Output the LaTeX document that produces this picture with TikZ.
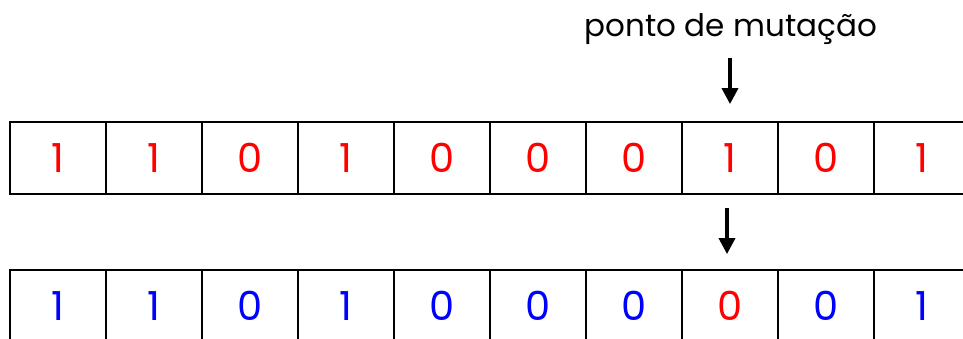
\documentclass[tikz,border=0pt]{standalone}
\usepackage{fontspec}
\setmainfont{Poppins}
\usetikzlibrary{arrows.meta,positioning}
\begin{document}
\begin{tikzpicture}[x=1pt,y=1pt,every node/.style={font=\fontsize{31}{37}\selectfont},
  bitcell/.style={draw,line width=1.8pt,minimum width=96pt,minimum height=72pt,inner sep=0pt,font=\fontsize{40}{46}\selectfont},
  mutarrow/.style={-{Triangle[length=16pt,width=16pt]},line width=3.5pt}]
\clip (0,0) rectangle (963,338);
% cromossomo original
\foreach \b [count=\i] in {1,1,0,1,0,0,0,1,0,1}
  \node[bitcell,text=red] (a\i) at (10+96*\i-48,180) {\b};
% cromossomo mutado
\foreach \b/\c [count=\i] in {1/blue,1/blue,0/blue,1/blue,0/blue,0/blue,0/blue,0/red,0/blue,1/blue}
  \node[bitcell,text=\c] (b\i) at (10+96*\i-48,32) {\b};
\node (mlabel) at (731,309) {ponto de mutação};
\coordinate (mtop) at (730,280);
\draw[mutarrow,shorten >=17pt] (mtop) -- (a8.north);
\draw[mutarrow,shorten <=13pt,shorten >=15pt] ([xshift=-3pt]a8.south) -- ([xshift=-3pt]b8.north);
\end{tikzpicture}
\end{document}
